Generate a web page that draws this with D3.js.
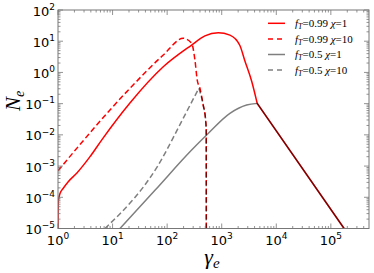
<!DOCTYPE html>
<html><head><meta charset="utf-8">
<script src="https://cdn.jsdelivr.net/npm/d3@7"></script>
<style>body{margin:0;background:#fff}svg{display:block}</style>
</head><body><svg id="c" width="374" height="273"></svg>
<script>
// ---- data ----
const xDomain = [1, 5e5];
const yDomain = [1e-5, 1e2];
const xTickValues = [1, 10, 100, 1e3, 1e4, 1e5];
const xTickExps = ["0", "1", "2", "3", "4", "5"];
const yTickValues = [1e-5, 1e-4, 1e-3, 1e-2, 1e-1, 1, 10, 100];
const yTickExps = ["\u22125", "\u22124", "\u22123", "\u22122", "\u22121", "0", "1", "2"];

const seriesLabels = [
  {f: "0.99", chi: "1"},
  {f: "0.99", chi: "10"},
  {f: "0.5", chi: "1"},
  {f: "0.5", chi: "10"}
];

// fT=0.99, chi=1
const redSolidGamma = [1, 1.004, 1.013, 1.088, 1.25, 1.54, 2.2, 3.86, 6.3, 20.8, 84.9, 281, 492, 863, 1413, 2153, 2661, 3530, 4470, 1.75e5];
const redSolidN     = [1e-5, 4e-5, 7.2e-5, 1.33e-4, 1.95e-4, 3.16e-4, 5.9e-4, 2.0e-3, 6.8e-3, 0.105, 1.52, 7.55, 14.9, 18.7, 15.7, 7.3, 2.32, 0.53, 0.102, 1e-5];
// fT=0.99, chi=10
const redDashGamma = [1, 20.8, 84.9, 197, 281, 323, 356, 399, 458, 507, 520, 522];
const redDashN     = [7.1e-4, 0.309, 3.61, 12.4, 8.57, 2.49, 0.57, 0.31, 0.090, 0.0298, 0.0143, 1e-5];
// fT=0.5, chi=1
const greySolidGamma = [13.7, 59.8, 281, 529, 1413, 2857, 4470, 1.75e5];
const greySolidN     = [1e-5, 1.67e-4, 3.26e-3, 9.86e-3, 0.0489, 0.0902, 0.102, 1e-5];
// fT=0.5, chi=10
const greyDashGamma = [7.25, 91.2, 128, 221, 381, 458, 507, 520, 522];
const greyDashN     = [1e-5, 2.55e-3, 7.9e-3, 0.05, 0.31, 0.090, 0.0298, 0.0143, 1e-5];

// ---- layout ----
const m = {l: 58, r: 369, t: 10, b: 228.5};
const svg = d3.select("#c");
const x = d3.scaleLog().domain(xDomain).range([m.l, m.r]);
const y = d3.scaleLog().domain(yDomain).range([m.b, m.t]);

const RED = "#ff0000", GREY = "rgba(0,0,0,0.5)";
const series = [
  {g: redSolidGamma, n: redSolidN, color: RED, dash: null, kinkAt: 4470},
  {g: redDashGamma, n: redDashN, color: RED, dash: "5.5,3", kinkAt: null},
  {g: greySolidGamma, n: greySolidN, color: GREY, dash: null, kinkAt: 4470},
  {g: greyDashGamma, n: greyDashN, color: GREY, dash: "5.5,3", kinkAt: 381}
];

svg.append("defs").append("clipPath").attr("id", "pc")
  .append("rect").attr("x", m.l).attr("y", m.t).attr("width", m.r - m.l).attr("height", m.b - m.t);

const lineGen = d3.line().x(d => x(d[0])).y(d => y(d[1])).curve(d3.curveMonotoneX);
const plot = svg.append("g").attr("clip-path", "url(#pc)");
series.forEach(s => {
  const pts = s.g.map((g, i) => [g, s.n[i]]);
  let d;
  if (s.kinkAt != null) {
    const k = s.g.indexOf(s.kinkAt);
    d = lineGen(pts.slice(0, k + 1)) + lineGen(pts.slice(k)).replace(/^M/, "L");
  } else d = lineGen(pts);
  plot.append("path").attr("d", d).attr("fill", "none")
    .attr("stroke", s.color).attr("stroke-width", 1.5)
    .attr("stroke-dasharray", s.dash);
});

// ---- frame & ticks ----
const FRAME = "#777";
svg.append("rect").attr("x", m.l).attr("y", m.t).attr("width", m.r - m.l).attr("height", m.b - m.t)
  .attr("fill", "none").attr("stroke", FRAME).attr("stroke-width", 1);

const tk = svg.append("g").attr("stroke", FRAME).attr("stroke-width", 0.8);
const xMinor = [], yMinor = [];
for (let d = 0; d <= 5; d++) for (let k = 2; k <= 9; k++) { const v = k * Math.pow(10, d); if (v < xDomain[1]) xMinor.push(v); }
for (let d = -5; d <= 1; d++) for (let k = 2; k <= 9; k++) yMinor.push(k * Math.pow(10, d));
function xt(v, len) {
  tk.append("line").attr("x1", x(v)).attr("x2", x(v)).attr("y1", m.b).attr("y2", m.b - len);
  tk.append("line").attr("x1", x(v)).attr("x2", x(v)).attr("y1", m.t).attr("y2", m.t + len);
}
function yt(v, len) {
  tk.append("line").attr("y1", y(v)).attr("y2", y(v)).attr("x1", m.l).attr("x2", m.l + len);
  tk.append("line").attr("y1", y(v)).attr("y2", y(v)).attr("x1", m.r).attr("x2", m.r - len);
}
xTickValues.forEach(v => xt(v, 5)); xMinor.forEach(v => xt(v, 2.5));
yTickValues.forEach(v => yt(v, 5)); yMinor.forEach(v => yt(v, 2.5));

// tick labels
const FONT = "DejaVu Sans";
xTickValues.forEach((v, i) => {
  const t = svg.append("text").attr("x", x(v)).attr("y", 245).attr("text-anchor", "middle")
    .attr("font-family", FONT).attr("font-size", 13).attr("fill", "#000");
  t.append("tspan").text("10");
  t.append("tspan").attr("font-size", 9).attr("dy", -5.7).text(xTickExps[i]);
});
yTickValues.forEach((v, i) => {
  const t = svg.append("text").attr("x", 55).attr("y", y(v) + 5.5).attr("text-anchor", "end")
    .attr("font-family", FONT).attr("font-size", 13).attr("fill", "#000");
  t.append("tspan").text("10");
  t.append("tspan").attr("font-size", 9).attr("dy", -5.7).text(yTickExps[i]);
});

// axis labels
const SERIF = "Liberation Serif";
const xl = svg.append("text").attr("x", 212).attr("y", 264).attr("text-anchor", "middle")
  .attr("font-family", SERIF).attr("font-style", "italic").attr("font-size", 22);
xl.append("tspan").text("\u03b3");
xl.append("tspan").attr("font-size", 15).attr("dy", 4).text("e");

const yl = svg.append("text").attr("transform", "translate(19.5,101) rotate(-90)").attr("text-anchor", "middle")
  .attr("font-family", SERIF).attr("font-style", "italic").attr("font-size", 21);
yl.append("tspan").text("N");
yl.append("tspan").attr("font-size", 14).attr("dy", 4).text("e");

// legend
const leg = svg.append("g");
const rowY = [23.3, 39, 54.5, 70];
series.forEach((s, i) => {
  leg.append("line").attr("x1", 268).attr("x2", 285).attr("y1", rowY[i]).attr("y2", rowY[i])
    .attr("stroke", s.color).attr("stroke-width", 1.5).attr("stroke-dasharray", s.dash ? "5,4" : null);
  const t = leg.append("text").attr("x", 295).attr("y", rowY[i] + 3.5)
    .attr("font-family", SERIF).attr("font-size", 11).attr("fill", "#000");
  t.append("tspan").attr("font-style", "italic").text("f");
  t.append("tspan").attr("font-style", "italic").attr("font-size", 8).attr("dy", 2).text("T");
  t.append("tspan").attr("dy", -2).text("=" + seriesLabels[i].f + " ");
  t.append("tspan").attr("font-style", "italic").text("\u03c7");
  t.append("tspan").text("=" + seriesLabels[i].chi);
});
</script>
</body></html>
